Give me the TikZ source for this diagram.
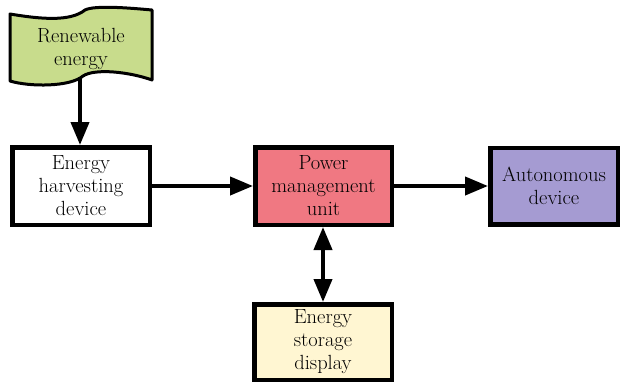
\documentclass[tikz,border=0pt]{standalone}
\usetikzlibrary{arrows.meta}
\definecolor{flaggreen}{RGB}{200,220,140}
\definecolor{pmupink}{RGB}{240,120,130}
\definecolor{autolav}{RGB}{165,155,210}
\definecolor{storeyel}{RGB}{255,246,210}
\tikzset{
  txt/.style={align=center, font=\fontsize{20.5}{23}\selectfont, inner sep=0pt},
  blk/.style={txt, draw=black, line width=4.5pt, rectangle},
  conn/.style={line width=4pt, -{Triangle[length=23pt,width=18pt]}},
  dconn/.style={line width=4pt, {Triangle[length=23pt,width=18pt]}-{Triangle[length=23pt,width=18pt]}}
}
\begin{document}
\begin{tikzpicture}[x=1pt,y=-1pt]
\useasboundingbox (0,0) rectangle (622,384);
% flag
\draw[fill=flaggreen, line width=3pt, line join=round]
  (10,14) .. controls (40,19) and (70,22) .. (85,10)
  .. controls (95,5) and (130,8) .. (152,10)
  -- (152,80)
  .. controls (130,72) and (95,68) .. (83,76)
  .. controls (70,87) and (30,87) .. (10,81) -- cycle;
\node[txt] (flag) at (81,49) {Renewable\\energy};
\coordinate (flagbot) at (80,77);
% boxes
\node[blk, fill=white, minimum width=137.5pt, minimum height=77.5pt] (harvest) at (81,186) {Energy\\harvesting\\device};
\node[blk, fill=pmupink, minimum width=136.5pt, minimum height=77.5pt] (pmu) at (323.5,186) {Power\\management\\unit};
\node[blk, fill=autolav, minimum width=127.5pt, minimum height=76.5pt] (auto) at (554,186) {Autonomous\\device};
\node[blk, fill=storeyel, minimum width=137.5pt, minimum height=75.5pt] (store) at (323,342) {Energy\\storage\\display};
% connectors
\draw[conn] (flagbot) -- (flagbot |- harvest.north);
\draw[conn] (harvest) -- (pmu);
\draw[conn] (pmu) -- (auto);
\draw[dconn] (pmu.south -| store.north) -- (store.north);
\end{tikzpicture}
\end{document}
